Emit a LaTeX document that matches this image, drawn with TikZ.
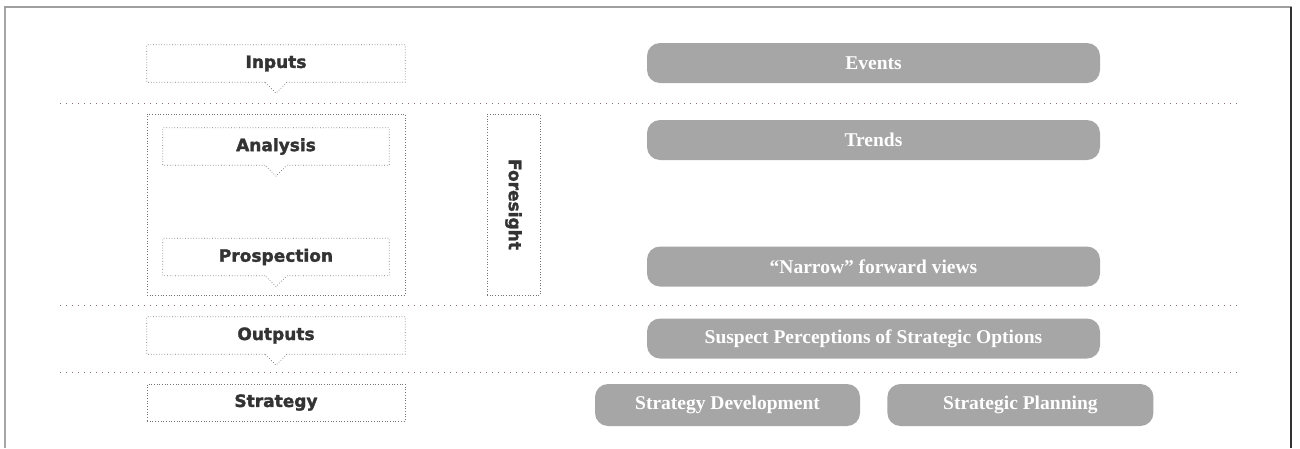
\documentclass[tikz,border=0pt]{standalone}
\usepackage{fontspec}
\setmainfont{Liberation Serif}
\newfontfamily\labelfont{DejaVu Sans}[BoldFont={DejaVu Sans Bold}, BoldFeatures={FakeBold=1.8}]
\usepackage{tikz}
\usetikzlibrary{calc,positioning}
\usepackage{xcolor}
\definecolor{boxgray}{HTML}{A6A6A6}
\definecolor{labelgray}{HTML}{333333}
\definecolor{sepred}{HTML}{8E6F78}

\begin{document}
\begin{tikzpicture}[x=1pt,y=-1pt,
  outline/.style={draw=black!55, dotted, line width=0.7pt},
  stage/.style={minimum width=258pt, minimum height=37pt, inner sep=0pt,
    text=labelgray, font=\labelfont\bfseries\fontsize{17}{20}\selectfont},
  substage/.style={stage, minimum width=226pt},
  item/.style={fill=boxgray, rounded corners=13pt, minimum width=453pt,
    minimum height=40pt, inner sep=0pt, text=white,
    font=\bfseries\fontsize{19.5}{22}\selectfont},
  separator/.style={sepred, line width=1pt, dash pattern=on 1pt off 5pt}]
  \useasboundingbox (0,0) rectangle (1300,448);
  % frame
  \draw[gray!70, line width=2pt] (5,448) -- (5,7);
  \draw[gray!75, line width=2pt] (4,7) -- (1292,7);
  \draw[gray!40!black, line width=1.5pt] (1291,7) -- (1291,448);
  % separators
  \foreach \y in {103,305,372}
    \draw[separator] (60,\y) -- (1240,\y);
  % left column
  \node[stage] (inputs) at (276,63.5) {Inputs};
  \node[stage, outline, minimum height=181pt] (group) at (276,204.5) {};
  \node[substage] (analysis) at (276,146.5) {Analysis};
  \node[substage] (prospection) at (276,257) {Prospection};
  \node[stage, outline, minimum width=53pt, minimum height=181pt] (foresight) at (513.5,204.5) {};
  \node[text=labelgray, font=\labelfont\bfseries\fontsize{17}{20}\selectfont, rotate=-90]
    (foresighttext) at (foresight.center) {Foresight};
  \node[stage] (outputs) at (276,335.5) {Outputs};
  \node[stage, outline] (strategy) at (276,402.5) {Strategy};
  % boxes with a notch underneath
  \foreach \n in {inputs,analysis,prospection,outputs}
    \draw[outline] ($(\n.south)+(-11,0)$) -- (\n.south west) -- (\n.north west)
      -- (\n.north east) -- (\n.south east) -- ($(\n.south)+(11,0)$)
      -- ($(\n.south)+(0,11)$) -- cycle;
  % right column
  \node[item] (events) at (873.5,63) {Events};
  \node[item] (trends) at (873.5,140) {Trends};
  \node[item] (narrow) at (873.5,266.5) {“Narrow” forward views};
  \node[item] (suspect) at (873.5,338.5) {Suspect Perceptions of Strategic Options};
  \node[item, minimum width=265pt, minimum height=42pt] (development) at (727.5,405) {Strategy Development};
  \node[item, minimum width=266pt, minimum height=42pt, right=27pt of development] (planning) {Strategic Planning};
\end{tikzpicture}
\end{document}
